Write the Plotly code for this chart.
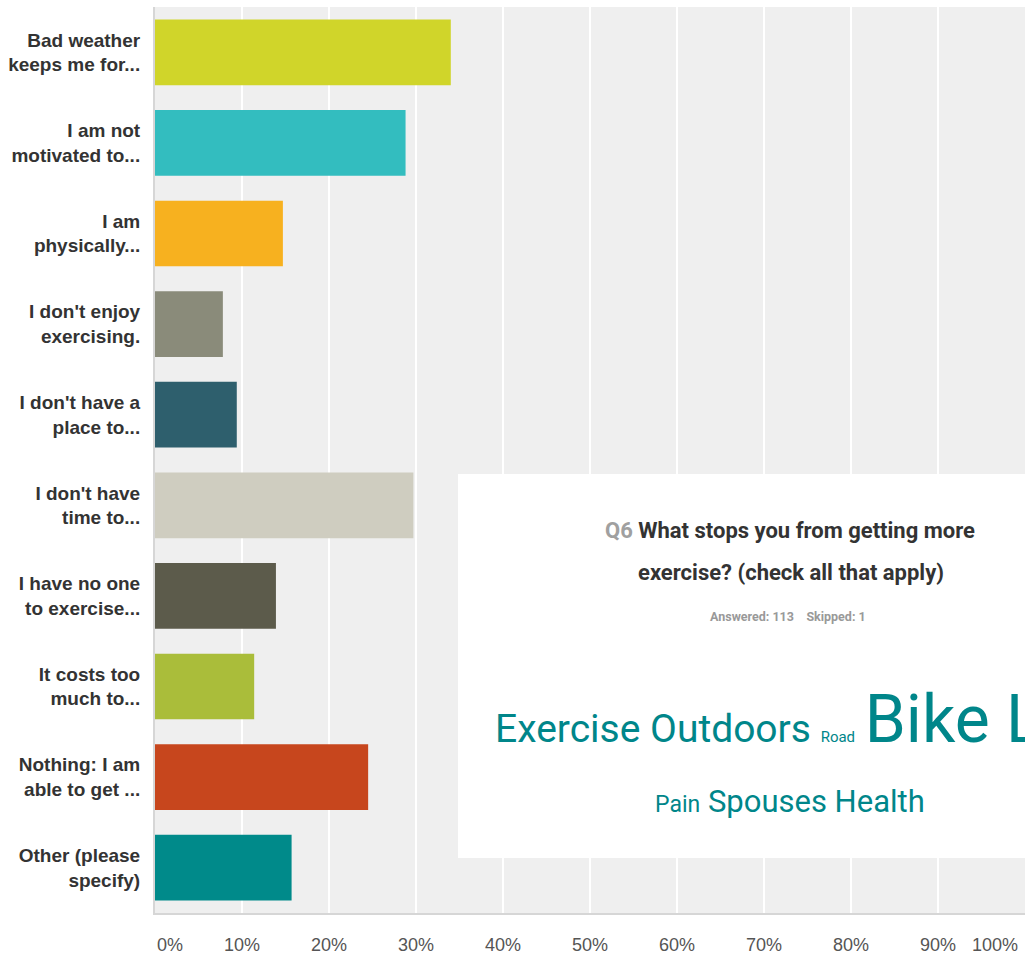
import plotly.graph_objects as go

# survey answers (share of respondents, %)
categories = [
    "Bad weather<br>keeps me for...",
    "I am not<br>motivated to...",
    "I am<br>physically...",
    "I don't enjoy<br>exercising.",
    "I don't have a<br>place to...",
    "I don't have<br>time to...",
    "I have no one<br>to exercise...",
    "It costs too<br>much to...",
    "Nothing: I am<br>able to get ...",
    "Other (please<br>specify)",
]
values = [34.0, 28.8, 14.7, 7.8, 9.4, 29.7, 13.9, 11.4, 24.5, 15.7]
bar_colors = [
    "#d0d52a", "#33bdbf", "#f7b11f", "#8a8b7a", "#2e5f6d",
    "#cfcdc0", "#5c5b4b", "#aabd3a", "#c7461d", "#008a8a",
]
tick_vals = [0, 10, 20, 30, 40, 50, 60, 70, 80, 90, 100]
tick_text = [f"{v}%" for v in tick_vals]

question = "What stops you from getting more"
question2 = "exercise? (check all that apply)"
answered, skipped = 113, 1

TEAL = "#00868a"
NARROW = "Roboto, Liberation Sans, sans-serif"

# plot area in page pixels
PLOT_L, PLOT_W = 155, 870
PLOT_B, PLOT_H = 913, 906


def px(x):
    return (x - PLOT_L) / PLOT_W


def py(y):
    return (PLOT_B - y) / PLOT_H


fig = go.Figure()
fig.add_trace(go.Bar(
    y=categories,
    x=values,
    orientation="h",
    marker=dict(color=bar_colors, line=dict(width=0)),
    hovertemplate="%{x:.1f}%<extra></extra>",
))

fig.update_layout(
    width=1025, height=959,
    margin=dict(l=155, r=0, t=7, b=46),
    paper_bgcolor="white",
    plot_bgcolor="#efefef",
    bargap=0.275,
    showlegend=False,
    font=dict(family="Liberation Sans, Arial, sans-serif"),
)
fig.update_xaxes(
    range=[0, 100],
    tickvals=tick_vals,
    showticklabels=False,
    showgrid=True, gridcolor="white", gridwidth=2,
    zeroline=False,
    showline=True, linecolor="#d6d6d6", linewidth=2,
)
fig.update_yaxes(
    autorange="reversed",
    tickfont=dict(size=19, color="#333333", weight="bold"),
    ticklabelstandoff=9,
    showline=True, linecolor="#d6d6d6", linewidth=2,
)

# x tick labels (ends kept inside the plot like the original)
for v, t in zip(tick_vals, tick_text):
    if v == tick_vals[0]:
        anchor, shift = "left", 0
    elif v == tick_vals[-1]:
        anchor, shift = "right", -5
    else:
        anchor, shift = "center", 0
    fig.add_annotation(
        x=v, y=0, xref="x", yref="paper", yanchor="middle",
        xanchor=anchor, xshift=shift, yshift=-32,
        text=t, showarrow=False,
        font=dict(size=18, color="#555555"),
    )

# white overlay panel with question and word cloud
fig.add_shape(
    type="rect", xref="paper", yref="paper",
    x0=px(458), x1=1.05, y0=py(858), y1=py(474),
    fillcolor="white", line=dict(width=0), layer="above",
)
fig.add_annotation(
    x=px(790), y=py(530), xref="paper", yref="paper", showarrow=False,
    xanchor="center",
    text=f"<span style='color:#a0a0a0'>Q6</span> {question}",
    font=dict(family=NARROW, size=22, color="#333333", weight="bold"),
)
fig.add_annotation(
    x=px(791), y=py(572), xref="paper", yref="paper", showarrow=False,
    xanchor="center",
    text=question2,
    font=dict(family=NARROW, size=22, color="#333333", weight="bold"),
)
fig.add_annotation(
    x=px(788), y=py(626), xref="paper", yref="paper", showarrow=False,
    xanchor="center",
    text=f"Answered: {answered}&nbsp;&nbsp;&nbsp;&nbsp;Skipped: {skipped}",
    font=dict(family=NARROW, size=12.5, color="#999999", weight="bold"),
)
fig.add_annotation(
    x=px(493), y=py(760), xref="paper", yref="paper",
    xanchor="left", yanchor="bottom", showarrow=False,
    text="Exercise Outdoors <span style='font-size:15px'>Road</span> "
         "<span style='font-size:66px'>Bike Lanes</span>",
    font=dict(family=NARROW, size=39, color=TEAL),
)
fig.add_annotation(
    x=px(790), y=py(822), xref="paper", yref="paper",
    xanchor="center", yanchor="bottom", showarrow=False,
    text="<span style='font-size:23px'>Pain</span> Spouses Health",
    font=dict(family=NARROW, size=31, color=TEAL),
)

# drop the default body margin so the figure sits at the page corner
fig.write_html(
    "out.html",
    config={"displayModeBar": False},
    post_script="document.body.style.margin='0';"
                "document.documentElement.style.overflow='hidden';",
)
